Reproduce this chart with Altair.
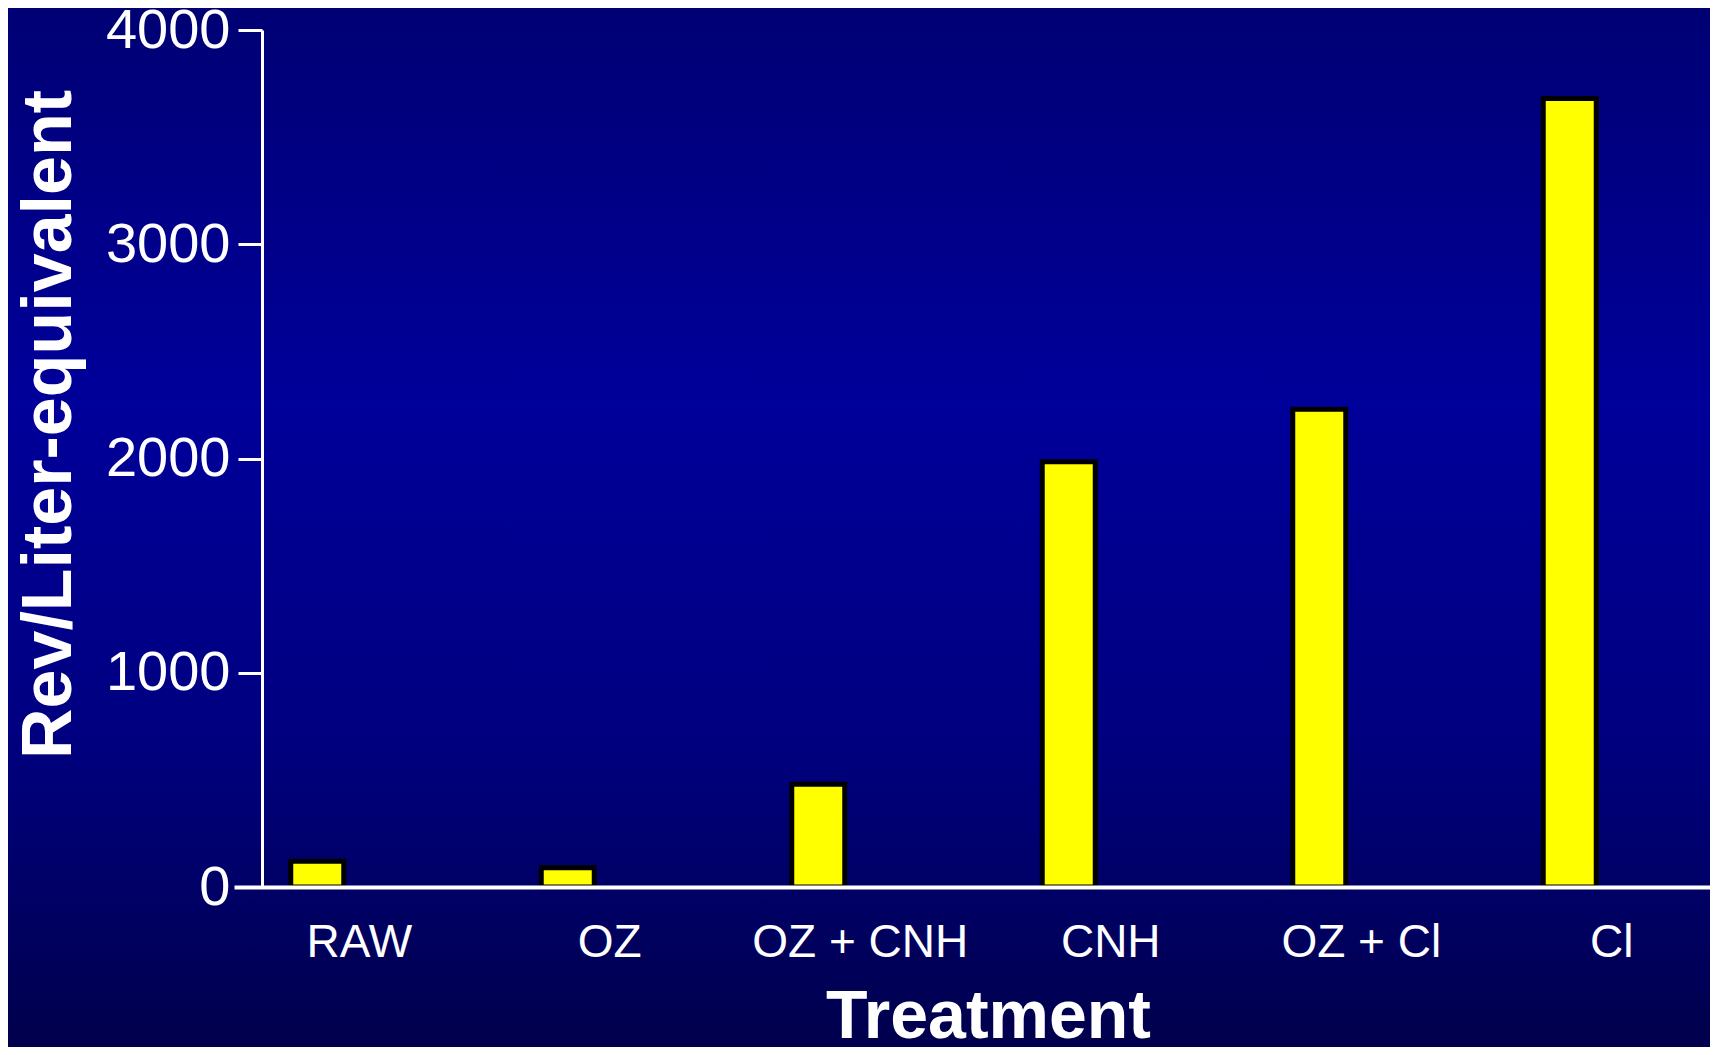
import altair as alt
import pandas as pd

categories = ["RAW", "OZ", "OZ + CNH", "CNH", "OZ + Cl", "Cl"]
values = [120, 90, 480, 1985, 2230, 3680]
y_ticks = [0, 1000, 2000, 3000, 4000]

df = pd.DataFrame({"Treatment": categories, "Rev": values})

FONT = "Liberation Sans, Arial, Helvetica, sans-serif"

bg_gradient = alt.Gradient(
    gradient="linear",
    x1=0, x2=0, y1=0, y2=1,
    stops=[
        alt.GradientStop(color="#000074", offset=0.0),
        alt.GradientStop(color="#00009a", offset=0.38),
        alt.GradientStop(color="#000080", offset=0.7),
        alt.GradientStop(color="#00004c", offset=1.0),
    ],
)

background = alt.Chart(alt.Data(values=[{}])).mark_rect(fill=bg_gradient).encode(
    x=alt.value(-254), x2=alt.value(1448), y=alt.value(-22), y2=alt.value(1017)
)

bars = alt.Chart(df).mark_bar(
    width=53, xOffset=-42, fill="#ffff00", stroke="#000000", strokeWidth=5
).encode(
    x=alt.X(
        "Treatment:N",
        sort=categories,
        scale=alt.Scale(range=[-28, 1475], paddingInner=0, paddingOuter=0),
        axis=alt.Axis(
            title="Treatment",
            zindex=1,
            labelAngle=0,
            labelFontSize=46,
            labelFont=FONT,
            labelColor="white",
            labelPadding=33,
            labelLimit=0,
            ticks=False,
            tickSize=0,
            domainColor="white",
            domainWidth=4,
            titleFont=FONT,
            titleFontSize=68,
            titleFontWeight="bold",
            titleColor="white",
            titleBaseline="alphabetic",
            titleX=726,
            titleY=150,
            titleAnchor="middle",
            titleAlign="center",
        ),
    ),
    y=alt.Y(
        "Rev:Q",
        scale=alt.Scale(domain=[0, 4000], nice=False),
        axis=alt.Axis(
            title="Rev/Liter-equivalent",
            zindex=1,
            values=y_ticks,
            format="d",
            grid=False,
            labelFontSize=56,
            labelFont=FONT,
            labelColor="white",
            labelPadding=8,
            tickSize=24,
            tickWidth=3,
            tickColor="white",
            domainColor="white",
            domainWidth=3,
            titleFont=FONT,
            titleFontSize=70,
            titleFontWeight="bold",
            titleColor="white",
            titleAngle=270,
            titleBaseline="alphabetic",
            titleAlign="center",
            titleX=-192,
            titleY=394,
        ),
    ),
)

chart = alt.layer(background, bars).properties(
    width=1448,
    height=857,
    autosize=alt.AutoSizeParams(type="none"),
    padding={"left": 254, "top": 22, "right": 0, "bottom": 160},
).configure_view(stroke=None).configure(background="#000060")

chart.save("out.html", embed_options={"renderer": "svg", "actions": False})
